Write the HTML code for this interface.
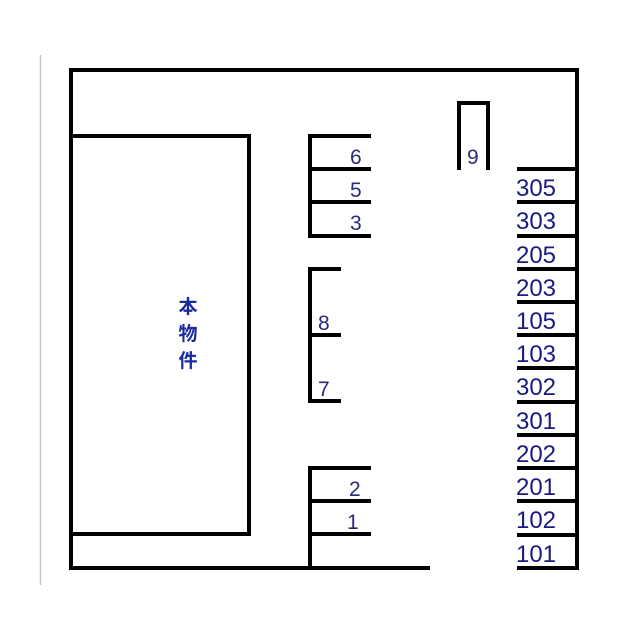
<!DOCTYPE html>
<html><head><meta charset="utf-8"><style>
html,body{margin:0;padding:0;background:#fff;width:640px;height:640px;overflow:hidden}
svg{display:block}
text{font-family:"Liberation Sans",sans-serif;fill:#1a1a80}
</style></head><body>
<svg width="640" height="640" viewBox="0 0 640 640">
<line x1="40.5" y1="55" x2="40.5" y2="585" stroke="#c8c8c8" stroke-width="1.5"/>
<g stroke="#000" stroke-width="4" fill="none" stroke-linecap="square">
<polyline points="428,568 71,568 71,70 577,70 577,568"/>
<polyline points="71,136 249,136 249,534 71,534"/>
<polyline points="369,136 310,136 310,236 369,236"/>
<line x1="310" y1="169" x2="369" y2="169"/>
<line x1="310" y1="202" x2="369" y2="202"/>
<polyline points="339,269 310,269 310,401 339,401"/>
<line x1="310" y1="335" x2="339" y2="335"/>
<polyline points="369,468 310,468 310,568"/>
<line x1="310" y1="501" x2="369" y2="501"/>
<line x1="310" y1="534" x2="369" y2="534"/>
<polyline points="459,168 459,103 488,103 488,168"/>
<line x1="519" y1="169" x2="577" y2="169"/>
<line x1="519" y1="202" x2="577" y2="202"/>
<line x1="519" y1="236" x2="577" y2="236"/>
<line x1="519" y1="269" x2="577" y2="269"/>
<line x1="519" y1="302" x2="577" y2="302"/>
<line x1="519" y1="335" x2="577" y2="335"/>
<line x1="519" y1="368" x2="577" y2="368"/>
<line x1="519" y1="402" x2="577" y2="402"/>
<line x1="519" y1="435" x2="577" y2="435"/>
<line x1="519" y1="468" x2="577" y2="468"/>
<line x1="519" y1="501" x2="577" y2="501"/>
<line x1="519" y1="535" x2="577" y2="535"/>
<line x1="519" y1="568" x2="577" y2="568"/>
</g>
<g font-size="21" style="fill:#2a2a7a">
<text x="350" y="164" style="fill:#2a2a7a">6</text>
<text x="350" y="197" style="fill:#2a2a7a">5</text>
<text x="350" y="230" style="fill:#2a2a7a">3</text>
<text x="318" y="330" style="fill:#2a2a7a">8</text>
<text x="318" y="396" style="fill:#2a2a7a">7</text>
<text x="349" y="496" style="fill:#2a2a7a">2</text>
<text x="347" y="529" style="fill:#2a2a7a">1</text>
<text x="467" y="164" style="fill:#2a2a7a">9</text>
</g>
<g font-size="24">
<text x="516" y="196" textLength="40">305</text>
<text x="516" y="229" textLength="40">303</text>
<text x="516" y="263" textLength="40">205</text>
<text x="516" y="296" textLength="40">203</text>
<text x="516" y="329" textLength="40">105</text>
<text x="516" y="362" textLength="40">103</text>
<text x="516" y="395" textLength="40">302</text>
<text x="516" y="429" textLength="40">301</text>
<text x="516" y="462" textLength="40">202</text>
<text x="516" y="495" textLength="40">201</text>
<text x="516" y="528" textLength="40">102</text>
<text x="516" y="562" textLength="40">101</text>
</g>
<g font-size="19" font-weight="bold" text-anchor="middle">
<text x="188" y="313" style="font-family:'Noto Sans CJK JP',sans-serif;fill:#1a2aa0">本</text>
<text x="188" y="340" style="font-family:'Noto Sans CJK JP',sans-serif;fill:#1a2aa0">物</text>
<text x="188" y="367" style="font-family:'Noto Sans CJK JP',sans-serif;fill:#1a2aa0">件</text>
</g>
</svg>
</body></html>
